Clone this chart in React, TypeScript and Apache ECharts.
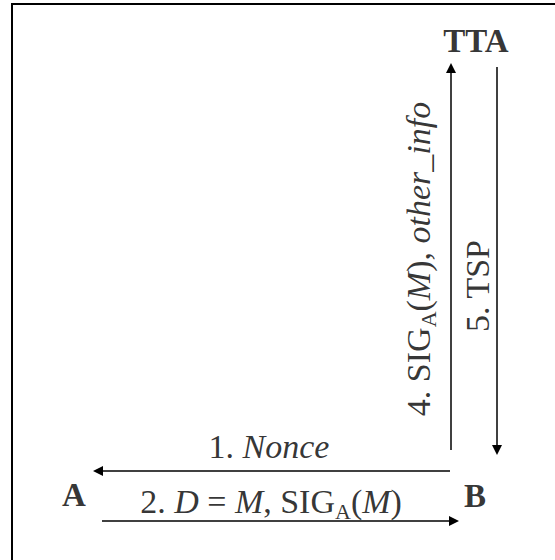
import React, { useEffect, useRef } from 'react';
import * as echarts from 'echarts';

// Participants of the protocol and the messages exchanged between them
const participants = ['A', 'B', 'TTA'];
const messageSteps = [1, 2, 4, 5];
const messageFrom = ['B', 'A', 'B', 'TTA'];
const messageTo = ['A', 'B', 'TTA', 'B'];
const messageLabels = [
  '1. {it|Nonce}',
  '2. {it|D} = {it|M}, SIG{sub|A}({it|M})',
  '4. SIG{sub|A}({it|M}), {it|other_info}',
  '5. TSP',
];

// Layout (axis units = pixels of the 555x560 canvas)
const nodePos: Record<string, [number, number]> = {
  A: [74, 495],
  B: [475, 496],
  TTA: [476, 41],
};
const arrowCoords: [number, number][][] = [
  [[450, 471], [98, 471]],
  [[102, 521], [454, 521]],
  [[451, 450], [451, 68]],
  [[497, 67], [497, 450]],
];
const labelPos: [number, number][] = [[269, 446], [271, 501], [418, 259], [477, 286]];
const labelRotate = [0, 0, 90, 90];

const SERIF = '"Liberation Serif", "Times New Roman", Times, serif';
const FS = 34;

export default function App() {
  const ref = useRef<HTMLDivElement>(null);
  useEffect(() => {
    if (!ref.current) return;
    const chart = echarts.init(ref.current, undefined, { renderer: 'svg' });
    const rich = {
      it: { fontStyle: 'italic', fontSize: FS, fontFamily: SERIF, color: '#000', lineHeight: 42 },
      sub: { fontSize: 22, fontFamily: SERIF, color: '#000', lineHeight: 22, verticalAlign: 'bottom' },
    };
    chart.setOption({
      animation: false,
      backgroundColor: '#fff',
      grid: { left: 0, right: 0, top: 0, bottom: 0 },
      xAxis: { type: 'value', min: 0, max: 555, show: false },
      yAxis: { type: 'value', min: 0, max: 560, inverse: true, show: false },
      graphic: [
        {
          type: 'rect',
          shape: { x: 12, y: 4, width: 600, height: 600 },
          style: { fill: 'none', stroke: '#000', lineWidth: 2 },
          silent: true,
        },
      ],
      series: [
        {
          type: 'lines',
          coordinateSystem: 'cartesian2d',
          silent: true,
          symbol: ['none', 'triangle'],
          symbolSize: [7, 10],
          lineStyle: { color: '#000', width: 1.5, opacity: 1 },
          data: messageSteps.map((s, i) => ({
            name: `${messageFrom[i]}→${messageTo[i]}`,
            coords: arrowCoords[i],
          })),
        },
        {
          type: 'scatter',
          silent: true,
          symbolSize: 0,
          data: messageSteps.map((s, i) => ({
            value: labelPos[i],
            label: {
              show: true,
              position: 'inside',
              rotate: labelRotate[i],
              formatter: messageLabels[i],
              fontSize: FS,
              fontFamily: SERIF,
              color: '#000',
              lineHeight: 42,
              rich,
            },
          })),
        },
        {
          type: 'scatter',
          silent: true,
          symbolSize: 0,
          data: participants.map((p) => ({
            name: p,
            value: nodePos[p],
            label: {
              show: true,
              position: 'inside',
              formatter: p,
              fontSize: 33,
              fontWeight: 'bold',
              fontFamily: SERIF,
              color: '#000',
            },
          })),
        },
      ],
    });
    return () => chart.dispose();
  }, []);
  return (
    <div
      ref={ref}
      style={{ position: 'absolute', left: 0, top: 0, width: 555, height: 560, background: '#fff' }}
    />
  );
}
